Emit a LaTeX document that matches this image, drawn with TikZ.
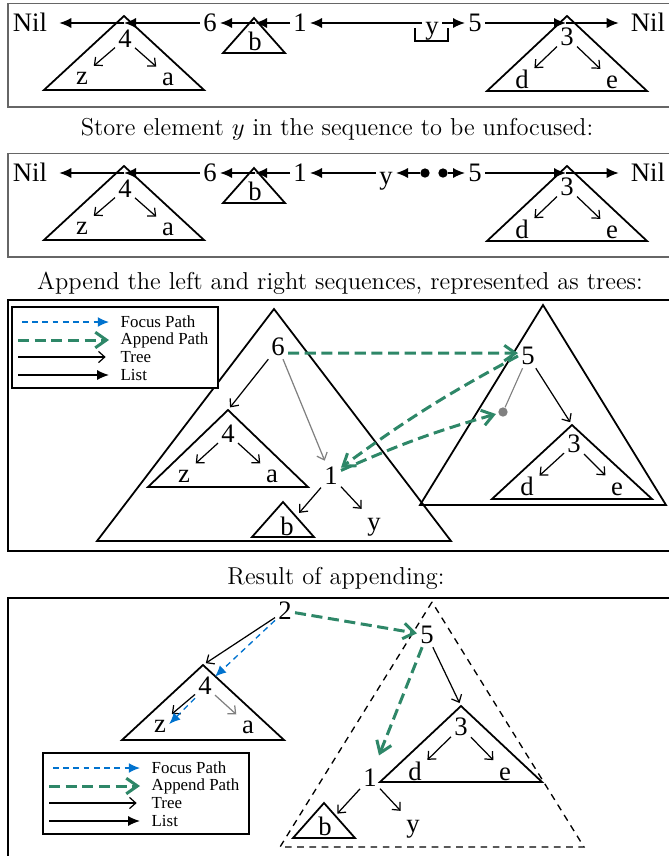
\documentclass[tikz,border=0pt]{standalone}
\usepackage{fontspec}
\usetikzlibrary{arrows.meta, positioning, calc}
\newfontfamily\labfont{Liberation Serif}
\definecolor{fblue}{RGB}{0,114,206}
\definecolor{agreen}{RGB}{46,135,104}
\tikzset{
  lab/.style={font=\labfont\fontsize{12}{14}\selectfont, inner sep=1.3pt, text height=8pt, text depth=0pt},
  capt/.style={font=\fontsize{11}{13}\selectfont, inner sep=0pt},
  keylab/.style={font=\labfont\fontsize{7.6}{9}\selectfont, anchor=west, inner sep=1pt},
  panel/.style={line width=0.7pt},
  trishape/.style={line width=0.8pt, line join=miter},
  lst/.style={-{Latex[length=5.4pt,width=4.6pt]}, line width=0.7pt},
  tree/.style={-{Straight Barb[length=2.8pt,width=5pt]}, line width=0.55pt, shorten >=1.5pt},
  gtree/.style={tree, draw=gray},
  apath/.style={-{Straight Barb[length=5pt,width=7pt]}, draw=agreen, line width=1.35pt, dash pattern=on 5pt off 2.5pt},
  fpath/.style={-{Latex[length=5pt,width=4.4pt]}, draw=fblue, line width=0.6pt, dash pattern=on 2.6pt off 2pt},
  gdot/.style={circle, fill=gray, inner sep=0pt, minimum size=4.2pt},
  bdot/.style={circle, fill=black, inner sep=0pt, minimum size=4.2pt}
}
% triangle with its apex named
\newcommand{\tri}[5][]{%
  \coordinate (#2) at (#3);
  \draw[trishape, #1] (#2) -- ++(-#4,#5) -- ++(2*#4,0) -- cycle;}
% the sequence row shared by the first two panels
\newcommand{\seqrow}{%
  \draw[panel, draw=gray!80!black] (8,3.5) rectangle (690,107);
  \node[lab] (nilL) at (30,23) {Nil};
  \tri{t4}{124,16}{80}{74}
  \node[lab] (four) at (125,39) {4};
  \node[lab] (z) at (82,76) {z};
  \node[lab] (a) at (168,77) {a};
  \draw[tree] (four) -- (z);
  \draw[tree] (four) -- (a);
  \node[lab] (six) at (210,23) {6};
  \tri{tb}{254,18}{31}{35}
  \node[lab] (b) at (255,42) {b};
  \node[lab] (one) at (300,23) {1};
  \node[lab] (five) at (475,23) {5};
  \tri{t3}{567,16}{80}{75}
  \node[lab] (three) at (567,37) {3};
  \node[lab] (d) at (522,80) {d};
  \node[lab] (e) at (612,80) {e};
  \draw[tree] (three) -- (d);
  \draw[tree] (three) -- (e);
  \node[lab] (nilR) at (648,23) {Nil};
  \coordinate (r4) at (124,23);
  \coordinate (rb) at (255,23);
  \coordinate (r3) at (566,23);
  \draw[lst] (six) -- (r4);
  \draw[lst, shorten >=4pt] (r4) -- (nilL);
  \draw[lst] (one) -- (rb);
  \draw[lst] (rb) -- (six);
  \draw[lst] (five) -- (r3);
  \draw[lst, shorten >=4pt] (r3) -- (nilR);}
% legend
\newcommand{\keybox}[2]{%
  \begin{scope}[shift={(#1,#2)}]
    \draw[line width=0.8pt, fill=white] (0,0) rectangle (206,81);
    \foreach \sty/\txt/\yy/\xx in {fpath/Focus Path/15/10, apath/Append Path/33/6, tree/Tree/50/6, lst/List/68/6}
      {\draw[\sty] (\xx,\yy) -- (97,\yy);
       \node[keylab] at (106,\yy) {\txt};}
  \end{scope}}

\begin{document}
\begin{tikzpicture}[x=0.45pt, y=-0.45pt]
  \useasboundingbox (0,0) rectangle (669,856);

  % panel 1
  \seqrow
  \node[lab] (y) at (432,26) {y};
  \draw[lst] (y.west |- one) -- (one);
  \draw[lst] (y.east |- five) -- (five);
  \draw[line width=0.7pt] (415,28) -- (415,41) -- (448,41) -- (448,28);

  \node[capt] (c1) at (337,129) {Store element $y$ in the sequence to be unfocused:};

  % panel 2
  \begin{scope}[shift={(0,150)}]
    \seqrow
    \node[lab] (y) at (386,26) {y};
    \draw[lst] (y.west |- one) -- (one);
    \node[bdot] (p1) at (425,23) {};
    \node[bdot] (p2) at (443,23) {};
    \draw[lst] (p1) -- (y.east |- p1);
    \draw[lst] (p2) -- (five);
  \end{scope}

  \node[capt] (c2) at (340,283) {Append the left and right sequences, represented as trees:};

  % panel 3
  \draw[panel] (8,300) rectangle (690,551);
  \tri{tL}{274,309}{177}{232}
  \tri{tR}{543,305}{123}{200}
  \keybox{12}{307}
  \node[lab] (six) at (278,347) {6};
  \node[lab] (five) at (528,356) {5};
  \tri{t4}{228,410}{80}{77}
  \node[lab] (four) at (228,434) {4};
  \node[lab] (z) at (184,474) {z};
  \node[lab] (a) at (272,474) {a};
  \node[lab] (one) at (331,476) {1};
  \tri{tb}{283,502}{31}{35}
  \node[lab] (b) at (287,527) {b};
  \node[lab] (y) at (374,522) {y};
  \tri{t3}{572,425}{80}{74}
  \node[lab] (three) at (574,444) {3};
  \node[lab] (d) at (527,487) {d};
  \node[lab] (e) at (617,487) {e};
  \node[gdot] (hole) at (503,412) {};
  \draw[tree] (six) -- (t4);
  \draw[gtree] (six) -- (one);
  \draw[tree] (four) -- (z);
  \draw[tree] (four) -- (a);
  \draw[tree] (one) -- (b);
  \draw[tree] (one) -- (y);
  \draw[tree] (five) -- (t3);
  \draw[tree] (three) -- (d);
  \draw[tree] (three) -- (e);
  \draw[gray, line width=0.5pt] (five) -- (hole);
  \draw[apath] ([yshift=-2.7pt]six.east) -- ([yshift=1.3pt]five.west);
  \draw[apath] (five.west) to[bend right=4] ([yshift=3.8pt]one.east);
  \draw[apath, shorten >=1pt] ([yshift=2.5pt]one.east) to[bend left=4] (hole);

  \node[capt] (c3) at (336,578) {Result of appending:};

  % panel 4
  \draw[panel] (8,598) rectangle (690,880);
  \tri[dash pattern=on 3pt off 2.5pt, line width=0.6pt]{tD}{432,602}{152}{245}
  \node[lab] (two) at (285,611) {2};
  \node[lab] (five) at (427,635) {5};
  \tri{t4}{203,665}{81}{75}
  \node[lab] (four) at (205,686) {4};
  \node[lab] (z) at (160,724) {z};
  \node[lab] (a) at (248,725) {a};
  \tri{t3}{461,706}{81}{76}
  \node[lab] (three) at (461,727) {3};
  \node[lab] (d) at (415,772) {d};
  \node[lab] (e) at (505,772) {e};
  \node[lab] (one) at (370,778) {1};
  \tri{tb}{324,803}{31}{35}
  \node[lab] (b) at (325,827) {b};
  \node[lab] (y) at (413,824) {y};
  \keybox{43}{753}
  \draw[tree] (two) -- (t4);
  \draw[fpath] (two) -- (four);
  \draw[tree] (four) -- (z);
  \draw[fpath] (four.south west) -- (z.east);
  \draw[gtree] (four) -- (a);
  \draw[tree] (five) -- (t3);
  \draw[tree] (three) -- (d);
  \draw[tree] (three) -- (e);
  \draw[tree] (one) -- (b);
  \draw[tree] (one) -- (y);
  \draw[apath] (two) -- (five);
  \draw[apath, shorten >=5pt] (five) -- (one);
\end{tikzpicture}
\end{document}
